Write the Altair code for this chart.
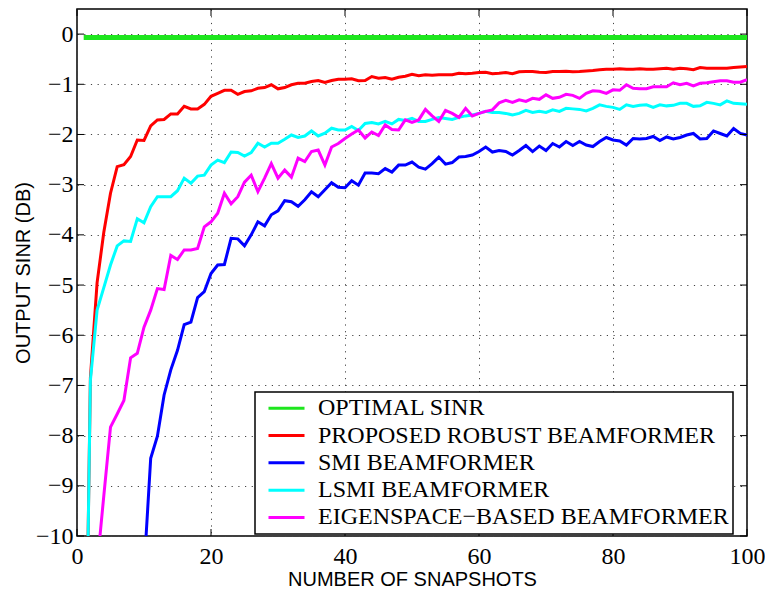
import altair as alt
import pandas as pd

SERIES = ["OPTIMAL SINR", "PROPOSED ROBUST BEAMFORMER", "SMI BEAMFORMER",
          "LSMI BEAMFORMER", "EIGENSPACE\u2212BASED BEAMFORMER"]
COLORS = ["#1ee61e", "#ff0000", "#0000ff", "#00ffff", "#ff00ff"]
WIDTHS = [5, 3, 3, 3, 3]

OPTIMAL_X = [1, 100]
OPTIMAL_Y = [-0.07, -0.07]

PROPOSED_START = 1
PROPOSED = [
    -16.0, -6.85, -4.95, -3.95, -3.17, -2.64, -2.60, -2.44, -2.11, -2.12,
    -1.83, -1.71, -1.70, -1.59, -1.59, -1.44, -1.49, -1.49, -1.40, -1.24,
    -1.18, -1.12, -1.12, -1.20, -1.145, -1.13, -1.08, -1.065, -1.01, -1.09,
    -1.065, -1.01, -0.98, -0.98, -0.945, -0.925, -0.965, -0.925, -0.90, -0.90,
    -0.89, -0.93, -0.925, -0.845, -0.88, -0.865, -0.90, -0.86, -0.84, -0.80,
    -0.83, -0.81, -0.82, -0.81, -0.81, -0.81, -0.78, -0.79, -0.78, -0.765,
    -0.76, -0.79, -0.78, -0.765, -0.79, -0.75, -0.745, -0.745, -0.76, -0.765,
    -0.745, -0.745, -0.74, -0.75, -0.745, -0.735, -0.725, -0.71, -0.70, -0.70,
    -0.69, -0.70, -0.70, -0.69, -0.70, -0.70, -0.69, -0.68, -0.70, -0.68,
    -0.69, -0.71, -0.665, -0.68, -0.68, -0.68, -0.68, -0.665, -0.655, -0.645,
]

SMI_START = 10
SMI = [
    -10.7, -8.45, -8.01, -7.19, -6.69, -6.30, -5.79, -5.74, -5.25, -5.13,
    -4.77, -4.60, -4.59, -4.07, -4.08, -4.22, -4.00, -3.74, -3.82, -3.60,
    -3.52, -3.32, -3.34, -3.43, -3.30, -3.14, -3.24, -3.10, -2.96, -3.05,
    -3.06, -2.92, -3.01, -2.77, -2.77, -2.78, -2.68, -2.75, -2.61, -2.61,
    -2.55, -2.65, -2.69, -2.58, -2.45, -2.59, -2.56, -2.45, -2.44, -2.41,
    -2.34, -2.25, -2.35, -2.32, -2.34, -2.41, -2.32, -2.22, -2.34, -2.23,
    -2.32, -2.18, -2.25, -2.14, -2.22, -2.14, -2.21, -2.24, -2.14, -2.06,
    -2.11, -2.13, -2.21, -2.08, -2.09, -2.08, -2.04, -2.12, -2.05, -2.09,
    -2.06, -2.01, -1.98, -2.09, -2.08, -1.93, -1.98, -2.03, -1.88, -1.98,
    -2.01,
]

LSMI_START = 1
LSMI = [
    -16.0, -6.9, -5.5, -5.05, -4.6, -4.22, -4.12, -4.13, -3.68, -3.76,
    -3.44, -3.24, -3.24, -3.24, -3.12, -2.87, -2.97, -2.83, -2.81, -2.61,
    -2.51, -2.56, -2.35, -2.36, -2.43, -2.36, -2.175, -2.25, -2.175, -2.175,
    -2.095, -2.01, -2.06, -2.03, -1.93, -2.03, -1.975, -1.875, -1.91, -1.91,
    -1.84, -1.92, -1.78, -1.76, -1.79, -1.74, -1.79, -1.70, -1.72, -1.68,
    -1.74, -1.74, -1.70, -1.66, -1.68, -1.70, -1.66, -1.63, -1.61, -1.58,
    -1.54, -1.56, -1.56, -1.58, -1.61, -1.58, -1.52, -1.56, -1.54, -1.56,
    -1.51, -1.54, -1.48, -1.49, -1.50, -1.53, -1.48, -1.41, -1.44, -1.46,
    -1.50, -1.41, -1.44, -1.42, -1.41, -1.46, -1.41, -1.43, -1.42, -1.38,
    -1.38, -1.44, -1.43, -1.36, -1.38, -1.41, -1.33, -1.38, -1.39, -1.40,
]

EIG_START = 3
EIG = [
    -10.6, -9.2, -7.83, -7.57, -7.30, -6.45, -6.36, -5.84,
    -5.50, -5.07, -5.09, -4.41, -4.49, -4.30, -4.30, -4.27, -3.84, -3.74,
    -3.57, -3.17, -3.38, -3.24, -2.95, -2.81, -3.14, -2.87, -2.58, -2.87,
    -2.71, -2.85, -2.47, -2.54, -2.34, -2.31, -2.61, -2.25, -2.18, -2.08,
    -1.99, -1.91, -2.07, -1.95, -2.02, -1.81, -1.90, -1.91, -1.71, -1.76,
    -1.71, -1.50, -1.63, -1.74, -1.52, -1.58, -1.66, -1.48, -1.63, -1.58,
    -1.54, -1.51, -1.37, -1.32, -1.36, -1.31, -1.34, -1.28, -1.30, -1.21,
    -1.28, -1.26, -1.20, -1.22, -1.28, -1.18, -1.13, -1.14, -1.18, -1.11,
    -1.12, -1.01, -1.08, -1.09, -1.09, -1.05, -1.05, -1.05, -0.97, -1.01,
    -0.98, -1.03, -0.98, -0.97, -0.95, -0.93, -0.93, -0.96, -0.96, -0.91,
]

XTICKS = [0, 20, 40, 60, 80, 100]
YTICKS = [-10, -9, -8, -7, -6, -5, -4, -3, -2, -1, 0]

W, H = 670, 527
TICK = 7

rows = []
for xv, yv in zip(OPTIMAL_X, OPTIMAL_Y):
    rows.append({"k": 0, "series": SERIES[0], "x": xv, "y": yv})
for k, (start, vals) in enumerate([(PROPOSED_START, PROPOSED), (SMI_START, SMI),
                                   (LSMI_START, LSMI), (EIG_START, EIG)], start=1):
    for i, v in enumerate(vals):
        rows.append({"k": k, "series": SERIES[k], "x": start + i, "y": v})
df = pd.DataFrame(rows)

xs = alt.Scale(domain=[0, 100], nice=False, zero=False)
ys = alt.Scale(domain=[-10, 0.5], nice=False, zero=False)

common_axis = dict(grid=True, gridDash=[1.2, 5.5], gridColor="#444", gridWidth=1,
                   ticks=False, tickSize=0, domain=False,
                   labelFont="Liberation Serif", labelFontSize=24, labelColor="black",
                   titleFont="Liberation Sans", titleFontSize=20, titleFontWeight="normal",
                   titleColor="black", titleBaseline="middle")
xa = alt.Axis(values=XTICKS, title="NUMBER OF SNAPSHOTS", labelPadding=8, labelFlush=False,
              titleY=43, titleX=W / 2, **common_axis)
ya = alt.Axis(values=YTICKS, title="OUTPUT SINR (DB)", labelPadding=4,
              titleX=-54, titleY=H / 2, **common_axis)

legend = alt.Legend(title=None, orient="none", legendX=178, legendY=383,
                    symbolType="stroke", symbolSize=1296, symbolStrokeWidth=3,
                    labelFont="Liberation Serif", labelFontSize=24, labelColor="black",
                    labelLimit=0, labelOffset=12, symbolOffset=8, padding=4,
                    clipHeight=24.5, rowPadding=2.3,
                    strokeColor="black", fillColor="white")
color = alt.Color("series:N", scale=alt.Scale(domain=SERIES, range=COLORS), legend=legend)

layers = []
for k in range(len(SERIES)):
    layers.append(
        alt.Chart(df).transform_filter(alt.datum.k == k)
        .mark_line(clip=True, strokeWidth=WIDTHS[k])
        .encode(x=alt.X("x:Q", scale=xs, axis=xa),
                y=alt.Y("y:Q", scale=ys, axis=ya),
                color=color)
    )

ytdf = pd.DataFrame({"t": YTICKS})
xtdf = pd.DataFrame({"t": XTICKS})
layers.append(alt.Chart(ytdf).mark_rule(color="black", strokeWidth=1).encode(
    y=alt.Y("t:Q", scale=ys, axis=ya), x=alt.value(0), x2=alt.value(TICK)))
layers.append(alt.Chart(ytdf).mark_rule(color="black", strokeWidth=1).encode(
    y=alt.Y("t:Q", scale=ys, axis=ya), x=alt.value(W - TICK), x2=alt.value(W)))
layers.append(alt.Chart(xtdf).mark_rule(color="black", strokeWidth=1).encode(
    x=alt.X("t:Q", scale=xs, axis=xa), y=alt.value(H - TICK), y2=alt.value(H)))
layers.append(alt.Chart(xtdf).mark_rule(color="black", strokeWidth=1).encode(
    x=alt.X("t:Q", scale=xs, axis=xa), y=alt.value(0), y2=alt.value(TICK)))

chart = alt.layer(*layers).properties(
    width=W, height=H,
    padding={"left": 77, "top": 9, "right": 18, "bottom": 54},
    autosize=alt.AutoSizeParams(type="none"),
    background="white",
).configure_view(stroke="black", strokeWidth=1.5).configure_legend(strokeWidth=1.5)

chart.save("out.html", embed_options={"renderer": "svg", "actions": False})
